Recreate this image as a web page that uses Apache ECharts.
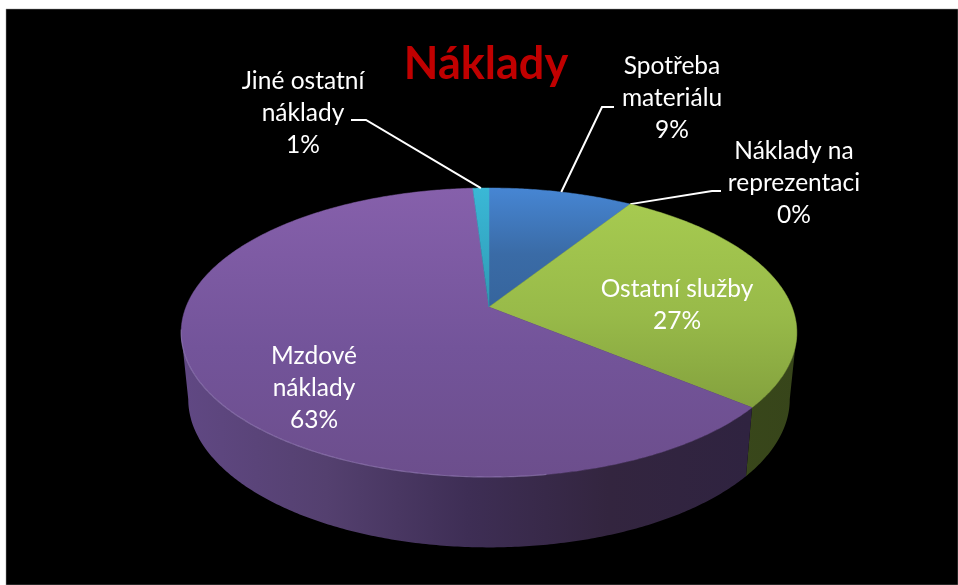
<!DOCTYPE html>
<html>
<head>
<meta charset="utf-8">
<style>html,body{margin:0;padding:0;background:#fff}#c{width:958px;height:585px}</style>
<script src="https://cdn.jsdelivr.net/npm/echarts@6/dist/echarts.min.js"></script>
</head>
<body>
<div id="c"></div>
<script>
const titleText = 'Náklady';
const categories = ['Spotřeba\nmateriálu', 'Náklady na\nreprezentaci', 'Ostatní služby', 'Mzdové\nnáklady', 'Jiné ostatní\nnáklady'];
const values = [9, 0, 27, 63, 1];

// styling / layout, kept apart from the data
const topFill = [
  { y0: 190, y1: 307, stops: ['#4685d2', '#3a6ba6', '#36659d'] },
  { y0: 190, y1: 307, stops: ['#8cb045', '#8cb045', '#8cb045'] },
  { y0: 205, y1: 405, stops: ['#a6ca50', '#98ba49', '#84a23e'] },
  { y0: 188, y1: 478, stops: ['#8660ab', '#73549a', '#6c4e8c'] },
  { y0: 188, y1: 307, stops: ['#3ab8d6', '#34a8c4', '#2f98b2'] }
];
const wallFill = [['#2c4568', '#2c4568'], ['#3c4b1c', '#3c4b1c'], ['#3c4b1c', '#37451a'], null, ['#1f5f70', '#1f5f70']];
const purpleWallStops = [[0, '#604883'], [0.25, '#54406f'], [0.5, '#3e2e55'], [0.75, '#33253f'], [1, '#2f2340']];
const labelBoxes = [
  { x: 672, y: 98, lead: [[614, 107], [602, 107]] },
  { x: 794, y: 183, lead: [[721, 191], [712, 191]] },
  { x: 677, y: 305 },
  { x: 314, y: 388 },
  { x: 303, y: 113, lead: [[351, 120], [366, 120]] }
];
// projection of the pie disc: apex, scale, perspective
const P = { cx: 489, cy: 307, a: 303, b: 140, k: 0.1765, wallDrop: 66, wallScale: 0.977, wallStretch: 1.05 };

const total = values.reduce((s, v) => s + v, 0);
const starts = values.map((_, i) => values.slice(0, i).reduce((s, v) => s + v, 0));
const toAngle = v => echarts.number.linearMap(v, [0, total], [0, Math.PI * 2]);
// silhouette turning points of the projected disc
const wallFrom = Math.acos(-P.k), wallTo = Math.PI * 2 - wallFrom;

function rim(theta, drop, scale, stretch) {
  const X = Math.sin(theta), Y = -Math.cos(theta), d = 1 - P.k * Y;
  return [P.cx + scale * P.a * X / d, P.cy + drop + (stretch || 1) * scale * P.b * Y / d];
}
function arc(a0, a1, drop, scale, stretch) {
  const pts = [], n = Math.max(2, Math.ceil((a1 - a0) / 0.01));
  for (let i = 0; i <= n; i++) pts.push(rim(a0 + (a1 - a0) * i / n, drop, scale, stretch));
  return pts;
}
const grad = (x, y, x2, y2, stops) => new echarts.graphic.LinearGradient(x, y, x2, y2, stops, true);

function renderWall(params, api) {
  const i = params.dataIndex, v = api.value(0);
  const a0 = Math.max(toAngle(starts[i]), wallFrom), a1 = Math.min(toAngle(starts[i] + v), wallTo);
  if (!v || a1 <= a0) return { type: 'group', children: [] };
  const pts = arc(a0, a1, 0, 1).concat(arc(a0, a1, P.wallDrop, P.wallScale, P.wallStretch).reverse());
  const fill = wallFill[i]
    ? grad(600, 0, 800, 0, [{ offset: 0, color: wallFill[i][0] }, { offset: 1, color: wallFill[i][1] }])
    : grad(186, 0, 750, 0, purpleWallStops.map(s => ({ offset: s[0], color: s[1] })));
  return { type: 'polygon', shape: { points: pts }, style: { fill: fill, stroke: null } };
}

function renderTop(params, api) {
  const i = params.dataIndex, v = api.value(0);
  const a0 = toAngle(starts[i]), a1 = toAngle(starts[i] + v), mid = (a0 + a1) / 2;
  const children = [];
  if (v) {
    const c = topFill[i];
    const fill = grad(0, c.y0, 0, c.y1, [{ offset: 0, color: c.stops[0] }, { offset: 0.55, color: c.stops[1] }, { offset: 1, color: c.stops[2] }]);
    children.push({ type: 'polygon', shape: { points: [[P.cx, P.cy]].concat(arc(a0, a1, 0, 1)) },
      style: { fill: fill, stroke: fill, lineWidth: 0.5 } });
    if (i === 3) {
      children.push({ type: 'polyline', shape: { points: arc(Math.PI * 0.95, Math.PI * 1.45, 0, 1) },
        style: { fill: null, stroke: 'rgba(190,170,225,0.35)', lineWidth: 1.2 } });
    }
  }
  const box = labelBoxes[i];
  if (box.lead) {
    children.push({ type: 'polyline', shape: { points: box.lead.concat([rim(mid, 0, 1)]) },
      style: { fill: null, stroke: '#ffffff', lineWidth: 2 } });
  }
  children.push({ type: 'text', style: {
    x: box.x, y: box.y, text: categories[i] + '\n' + Math.round(v / total * 100) + '%',
    fill: '#ffffff', font: '24.5px Lato, "Open Sans", sans-serif', lineHeight: 32,
    align: 'center', verticalAlign: 'middle' } });
  return { type: 'group', children: children };
}

const chart = echarts.init(document.getElementById('c'), null, { renderer: 'canvas' });
const rows = values.map((v, i) => ({ name: categories[i], value: [v] }));
chart.setOption({
  animation: false,
  backgroundColor: '#ffffff',
  title: { text: titleText, left: 481, top: 33, textAlign: 'center',
    textStyle: { color: '#c00000', fontFamily: 'Lato, "Open Sans", sans-serif', fontWeight: 'bold', fontSize: 45, lineHeight: 52 } },
  graphic: [{ type: 'rect', z: -10, silent: true, shape: { x: 6, y: 9, width: 952, height: 576 },
    style: { fill: '#000000', stroke: '#9a9a9a', lineWidth: 0.5 } }],
  series: [
    { type: 'custom', name: 'wall', coordinateSystem: 'none', renderItem: renderWall, data: rows, silent: true, z: 2 },
    { type: 'custom', name: 'top', coordinateSystem: 'none', renderItem: renderTop, data: rows, silent: true, z: 3 }
  ]
});
</script>
</body>
</html>
